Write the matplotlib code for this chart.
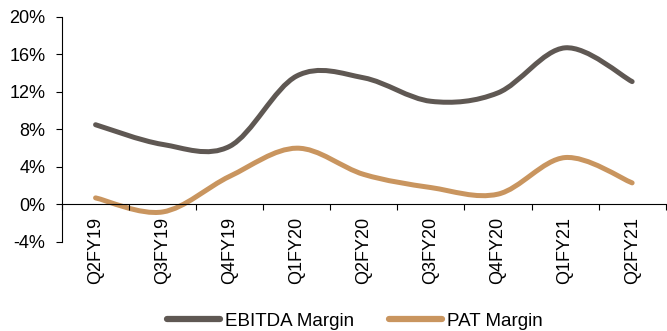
import numpy as np
import matplotlib
matplotlib.use("Agg")
import matplotlib.pyplot as plt
from matplotlib.path import Path
from matplotlib.patches import PathPatch
from matplotlib.lines import Line2D

quarters = ["Q2FY19", "Q3FY19", "Q4FY19", "Q1FY20", "Q2FY20",
            "Q3FY20", "Q4FY20", "Q1FY21", "Q2FY21"]
ebitda_margin = [8.5, 6.4, 6.2, 13.7, 13.5, 11.0, 11.9, 16.7, 13.1]
pat_margin = [0.7, -0.8, 3.0, 6.0, 3.2, 1.8, 1.1, 5.0, 2.3]

EBITDA_COLOR = "#5f5853"
PAT_COLOR = "#c9955f"
FS = 13

plt.rcParams["font.family"] = ["Liberation Sans", "DejaVu Sans"]


def smooth_path(xs, ys, tension=1 / 6):
    # Excel-style smoothed line: Catmull-Rom segments as cubic Beziers
    pts = np.column_stack([xs, ys]).astype(float)
    verts = [pts[0]]
    codes = [Path.MOVETO]
    n = len(pts)
    for i in range(n - 1):
        p0 = pts[i - 1] if i > 0 else pts[i]
        p1, p2 = pts[i], pts[i + 1]
        p3 = pts[i + 2] if i + 2 < n else pts[i + 1]
        c1 = p1 + (p2 - p0) * tension
        c2 = p2 - (p3 - p1) * tension
        verts += [c1, c2, p2]
        codes += [Path.CURVE4] * 3
    return Path(verts, codes)


fig = plt.figure(figsize=(6.67, 3.31), dpi=100)
ax = fig.add_axes([0.093, 0.269, 0.905, 0.680])

x = np.arange(len(quarters))
for vals, color in [(ebitda_margin, EBITDA_COLOR), (pat_margin, PAT_COLOR)]:
    patch = PathPatch(smooth_path(x, vals), facecolor="none", edgecolor=color,
                      lw=3.6, capstyle="round", joinstyle="round")
    ax.add_patch(patch)

ax.set_xlim(-0.5, len(quarters) - 0.5)
ax.set_ylim(-4, 20)
ax.set_yticks(np.arange(-4, 21, 4))
ax.set_yticklabels([f"{v}%" for v in range(-4, 21, 4)], fontsize=FS)
ax.tick_params(axis="y", length=4, width=0.8, pad=8)

ax.spines["top"].set_visible(False)
ax.spines["right"].set_visible(False)
ax.spines["bottom"].set_position(("data", 0))
ax.spines["left"].set_linewidth(0.8)
ax.spines["bottom"].set_linewidth(0.8)

ax.set_xticks(x)
ax.set_xticklabels(quarters, rotation=90, fontsize=FS, va="top")
ax.set_xticks(np.arange(-0.5, len(quarters), 1), minor=True)
ax.tick_params(axis="x", which="major", length=0, pad=9)
ax.tick_params(axis="x", which="minor", length=4, width=0.8)

handles = [Line2D([], [], color=EBITDA_COLOR, lw=4.5, solid_capstyle="round"),
           Line2D([], [], color=PAT_COLOR, lw=4.5, solid_capstyle="round")]
fig.legend(handles, ["EBITDA Margin", "PAT Margin"], loc="lower center",
           bbox_to_anchor=(0.532, -0.047), ncol=2, frameon=False, fontsize=13.5,
           handlelength=2.8, handletextpad=0.25, columnspacing=1.9)

fig.savefig("out.png", dpi=100)
